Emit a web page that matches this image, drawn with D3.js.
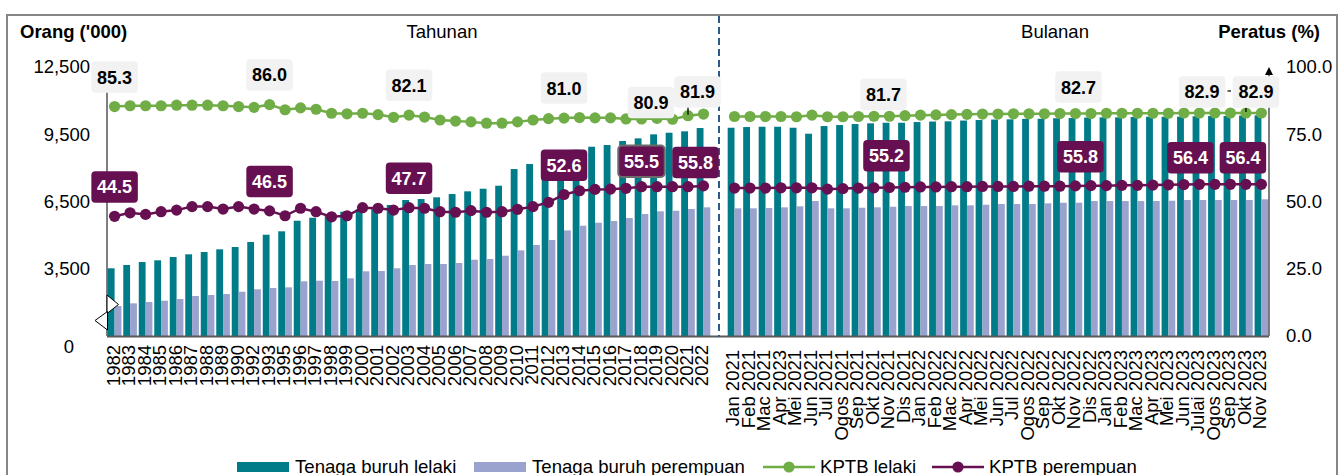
<!DOCTYPE html>
<html>
<head>
<meta charset="utf-8">
<script src="https://cdn.jsdelivr.net/npm/d3@7"></script>
<style>
  body { margin: 0; background: #fff; }
  svg text { font-family: "Liberation Sans", Arial, sans-serif; }
</style>
</head>
<body>
<svg id="chart" width="1340" height="475"></svg>
<script>
// category labels
var YEARS = ["1982","1983","1984","1985","1986","1987","1988","1989","1990","1992","1993","1995",
  "1996","1997","1998","1999","2000","2001","2002","2003","2004","2005","2006","2007","2008","2009",
  "2010","2011","2012","2013","2014","2015","2016","2017","2018","2019","2020","2021","2022"];
var MONTHS = ["Jan 2021","Feb 2021","Mac 2021","Apr 2023","Mei 2021","Jun 2021","Jul 2021","Ogos 2021",
  "Sep 2021","Okt 2021","Nov 2021","Dis 2021","Jan 2022","Feb 2022","Mac 2022","Apr 2022","Mei 2022",
  "Jun 2022","Jul 2022","Ogos 2022","Sep 2022","Okt 2022","Nov 2022","Dis 2022","Jan 2023","Feb 2023",
  "Mac 2023","Apr 2023","Mei 2023","Jun 2023","Julai 2023","Ogos 2023","Sep 2023","Okt 2023","Nov 2023"];

// Tenaga buruh ('000)
var MALE_YEARLY = [3520,3667,3800,3876,4023,4144,4246,4367,4469,4692,5018,5170,5642,5776,5897,6044,
  6151,6240,6343,6566,6610,6686,6833,6954,7070,7204,7948,8171,8350,8640,8810,8943,9019,9197,9317,
  9496,9567,9630,9777];
var FEMALE_YEARLY = [1838,1958,2016,2075,2150,2284,2329,2373,2476,2583,2641,2671,2940,2966,2953,3073,
  3386,3399,3520,3667,3711,3711,3756,3903,3934,4081,4322,4559,4782,5210,5420,5553,5629,5763,5941,
  6061,6088,6164,6240];
var MALE_MONTHLY = [9790,9821,9835,9835,9790,9523,9866,9911,9955,9986,10013,10013,10044,10067,10076,
  10111,10134,10156,10165,10187,10192,10214,10223,10245,10254,10254,10272,10281,10281,10285,10303,
  10312,10312,10334,10343];
var FEMALE_MONTHLY = [6195,6195,6209,6240,6285,6521,6195,6195,6222,6240,6267,6298,6298,6298,6329,6329,
  6356,6387,6387,6387,6418,6445,6445,6521,6521,6521,6521,6521,6535,6566,6566,6566,6566,6566,6597];

// KPTB (%)
var KPTB_MALE_YEARLY = [85.3,85.6,85.6,85.6,85.8,85.8,85.8,85.6,85.3,85.0,86.0,84.1,84.8,84.3,82.8,
  82.6,82.8,82.3,81.3,82.1,81.4,80.3,79.9,79.6,79.1,79.1,79.6,80.3,80.8,81.0,81.2,81.1,81.1,80.7,
  80.7,80.9,80.6,81.9,82.5];
var KPTB_FEMALE_YEARLY = [44.5,45.8,45.2,46.2,46.8,48.1,48.1,47.2,48.1,47.2,46.5,44.7,47.5,46.2,44.3,
  44.7,47.7,47.5,46.8,47.7,47.5,46.2,46.0,46.6,46.0,46.2,47.1,48.1,49.7,52.6,54.0,54.5,54.6,54.9,
  55.5,55.5,55.5,55.5,55.8];
var KPTB_MALE_MONTHLY = [81.6,81.6,81.6,81.6,81.5,82.1,81.5,81.5,81.6,81.7,81.7,81.9,82.1,82.2,82.3,
  82.4,82.5,82.5,82.6,82.6,82.6,82.7,82.7,82.7,82.8,82.8,82.8,82.8,82.8,82.9,82.9,82.9,82.9,82.9,82.9];
var KPTB_FEMALE_MONTHLY = [55.0,55.0,55.0,55.1,55.1,55.1,54.6,54.8,55.0,55.1,55.2,55.3,55.4,55.4,55.5,
  55.5,55.6,55.6,55.6,55.7,55.7,55.7,55.8,55.9,55.9,56.0,56.0,56.1,56.2,56.3,56.4,56.4,56.4,56.4,56.4];

var LEFT_TICKS = [500, 3500, 6500, 9500, 12500];
var RIGHT_TICKS = [0, 25, 50, 75, 100];

// labelled points: [category index, dx, dy, leader line]
var MALE_LABELS = [[0,0,-29.5],[10,0,-29.7],[19,0,-30],[29,0,-30],[35,-6,-16],[37,9.5,-24,true],
  [50,-6,-22],[62,3,-26.5],[70,2.7,-21],[73,10,-21,true]];
var FEMALE_LABELS = [[0,0,-29.3],[10,0,-29.4],[19,0,-29.4],[29,0,-29.2],[34,0,-25.4],[38,-8,-23.4],
  [50,-3,-31.7],[62,5,-29.2],[70,-9,-26.5],[73,-3,-26.5]];

var TEAL = "#007b88", LILAC = "#99a3cd", GREEN = "#70ad47", PURPLE = "#661052";
var PLOT_LEFT = 107, PLOT_RIGHT = 1269, PLOT_TOP = 67, PLOT_BOTTOM = 336;
var FONT = 18.5;

var categories = YEARS.concat([""], MONTHS);
function withGap(a, b) { return a.concat([null], b); }
var male = withGap(MALE_YEARLY, MALE_MONTHLY);
var female = withGap(FEMALE_YEARLY, FEMALE_MONTHLY);
var kptbMale = withGap(KPTB_MALE_YEARLY, KPTB_MALE_MONTHLY);
var kptbFemale = withGap(KPTB_FEMALE_YEARLY, KPTB_FEMALE_MONTHLY);
var idx = d3.range(categories.length);

var svg = d3.select("#chart");

var x = d3.scaleBand().domain(idx).range([PLOT_LEFT, PLOT_RIGHT]).paddingInner(0.12).paddingOuter(0.05);
var bw = x.bandwidth();
var yL = d3.scaleLinear().domain([500, 12500]).range([PLOT_BOTTOM, PLOT_TOP]);
var yR = d3.scaleLinear().domain([0, 100]).range([PLOT_BOTTOM, PLOT_TOP]);
function cx(i) { return x(i) + bw / 2; }

// frame
svg.append("rect").attr("x", 7).attr("y", 15).attr("width", 1330).attr("height", 520)
  .attr("fill", "none").attr("stroke", "#868686").attr("stroke-width", 2);

// bars
svg.append("g").selectAll("rect")
  .data(idx.filter(function(i) { return male[i] != null; }))
  .enter().append("rect")
  .attr("x", function(i) { return x(i); })
  .attr("y", function(i) { return yL(male[i]); })
  .attr("width", bw / 2)
  .attr("height", function(i) { return PLOT_BOTTOM - yL(male[i]); })
  .attr("fill", TEAL);

svg.append("g").selectAll("rect")
  .data(idx.filter(function(i) { return female[i] != null; }))
  .enter().append("rect")
  .attr("x", function(i) { return x(i) + bw / 2; })
  .attr("y", function(i) { return yL(female[i]); })
  .attr("width", bw / 2)
  .attr("height", function(i) { return PLOT_BOTTOM - yL(female[i]); })
  .attr("fill", LILAC);

// axis lines
svg.append("line").attr("x1", PLOT_LEFT).attr("x2", PLOT_LEFT).attr("y1", PLOT_TOP).attr("y2", PLOT_BOTTOM)
  .attr("stroke", "#000").attr("stroke-width", 1);
svg.append("line").attr("x1", PLOT_RIGHT).attr("x2", PLOT_RIGHT).attr("y1", 74).attr("y2", PLOT_BOTTOM)
  .attr("stroke", "#000").attr("stroke-width", 1);
svg.append("path").attr("d", "M" + (PLOT_RIGHT - 4) + ",75L" + PLOT_RIGHT + ",67L" + (PLOT_RIGHT + 4) + ",75Z")
  .attr("fill", "#000");
svg.append("line").attr("x1", PLOT_LEFT).attr("x2", PLOT_RIGHT).attr("y1", PLOT_BOTTOM + 0.5).attr("y2", PLOT_BOTTOM + 0.5)
  .attr("stroke", "#595959").attr("stroke-width", 1.8);

// axis break marks
svg.append("path").attr("d", "M107,295L118.5,304.5L107,313.5Z").attr("fill", "#fff").attr("stroke", "#000").attr("stroke-width", 1);
svg.append("path").attr("d", "M107.5,311.5L95,320.5L107.5,330Z").attr("fill", "#fff").attr("stroke", "#000").attr("stroke-width", 1);

// divider between yearly and monthly
svg.append("line").attr("x1", cx(YEARS.length)).attr("x2", cx(YEARS.length)).attr("y1", 16).attr("y2", PLOT_BOTTOM + 1)
  .attr("stroke", "#2e5a8a").attr("stroke-width", 2).attr("stroke-dasharray", "7,4");

// left axis
var fmt = d3.format(",");
var leftAxis = svg.append("g").attr("transform", "translate(90,0)")
  .call(d3.axisLeft(yL).tickValues(LEFT_TICKS).tickSize(0).tickPadding(0)
    .tickFormat(function(d) { return d === 500 ? "0" : fmt(d); }));
leftAxis.select(".domain").remove();
leftAxis.selectAll("text").attr("font-size", FONT).attr("fill", "#000");
leftAxis.selectAll(".tick").filter(function(d) { return d === 500; })
  .select("text").attr("x", -16).attr("y", 11);

// right axis
var rightAxis = svg.append("g").attr("transform", "translate(1286,0)")
  .call(d3.axisRight(yR).tickValues(RIGHT_TICKS).tickSize(0).tickPadding(0).tickFormat(d3.format(".1f")));
rightAxis.select(".domain").remove();
rightAxis.selectAll("text").attr("font-size", FONT).attr("fill", "#000");

// category labels
svg.append("g").selectAll("text")
  .data(idx.filter(function(i) { return categories[i] !== ""; }))
  .enter().append("text")
  .attr("transform", function(i) {
    return "translate(" + cx(i) + "," + (i < YEARS.length ? 345 : 350) + ") rotate(-90)";
  })
  .attr("dy", "0.27em")
  .attr("text-anchor", "end")
  .attr("font-size", FONT)
  .attr("fill", "#000")
  .text(function(i) { return categories[i]; });

// lines
function drawLine(values, color) {
  var line = d3.line()
    .defined(function(i) { return values[i] != null; })
    .x(cx)
    .y(function(i) { return yR(values[i]); });
  svg.append("path").datum(idx).attr("d", line)
    .attr("fill", "none").attr("stroke", color).attr("stroke-width", 2.5);
  svg.append("g").selectAll("circle")
    .data(idx.filter(function(i) { return values[i] != null; }))
    .enter().append("circle")
    .attr("cx", cx)
    .attr("cy", function(i) { return yR(values[i]); })
    .attr("r", 5.6)
    .attr("fill", color);
}
drawLine(kptbMale, GREEN);
drawLine(kptbFemale, PURPLE);

// data labels
var BOX_W = 46.5, BOX_H = 31.5;
function drawLabels(values, labels, fill, textColor, outline) {
  labels.forEach(function(l) {
    var i = l[0];
    var px = cx(i), py = yR(values[i]);
    var bx = px + l[1], by = py + l[2];
    if (l[3]) {
      svg.append("line").attr("x1", px).attr("x2", px).attr("y1", by + BOX_H / 2).attr("y2", py - 1)
        .attr("stroke", "#000").attr("stroke-width", 1.3);
    }
    var box = svg.append("rect")
      .attr("x", bx - BOX_W / 2).attr("y", by - BOX_H / 2)
      .attr("width", BOX_W).attr("height", BOX_H)
      .attr("rx", 4).attr("fill", fill);
    if (outline && i === 34) box.attr("stroke", "#6b6b6b").attr("stroke-width", 2);
    svg.append("text")
      .attr("x", bx).attr("y", by).attr("dy", "0.36em")
      .attr("text-anchor", "middle")
      .attr("font-size", 18).attr("font-weight", "bold")
      .attr("fill", textColor)
      .text(d3.format(".1f")(values[i]));
  });
}
drawLabels(kptbMale, MALE_LABELS, "#f2f2f2", "#000", false);
drawLabels(kptbFemale, FEMALE_LABELS, PURPLE, "#fff", true);
// small leader between the two last green labels
svg.append("line").attr("x1", 1227.5).attr("x2", 1231).attr("y1", 91).attr("y2", 91)
  .attr("stroke", "#000").attr("stroke-width", 1.2);

// titles
svg.append("text").attr("x", 20).attr("y", 37.5).attr("font-size", FONT).attr("font-weight", "bold").text("Orang ('000)");
svg.append("text").attr("x", 442).attr("y", 37.5).attr("font-size", FONT).attr("text-anchor", "middle").text("Tahunan");
svg.append("text").attr("x", 1055).attr("y", 37.5).attr("font-size", FONT).attr("text-anchor", "middle").text("Bulanan");
svg.append("text").attr("x", 1320).attr("y", 37.5).attr("font-size", FONT).attr("font-weight", "bold")
  .attr("text-anchor", "end").text("Peratus (%)");

// legend
var legend = svg.append("g");
var LEGEND_Y = 467;
legend.append("rect").attr("x", 237).attr("y", LEGEND_Y - 5).attr("width", 52).attr("height", 10).attr("fill", TEAL);
legend.append("text").attr("x", 295).attr("y", LEGEND_Y + 6).attr("font-size", 18.6).text("Tenaga buruh lelaki");
legend.append("rect").attr("x", 474).attr("y", LEGEND_Y - 5).attr("width", 52).attr("height", 10).attr("fill", LILAC);
legend.append("text").attr("x", 532).attr("y", LEGEND_Y + 6).attr("font-size", 18.6).text("Tenaga buruh perempuan");
[[763, GREEN, "KPTB lelaki"], [932, PURPLE, "KPTB perempuan"]].forEach(function(d) {
  legend.append("line").attr("x1", d[0]).attr("x2", d[0] + 52).attr("y1", LEGEND_Y).attr("y2", LEGEND_Y)
    .attr("stroke", d[1]).attr("stroke-width", 2.5);
  legend.append("circle").attr("cx", d[0] + 26).attr("cy", LEGEND_Y).attr("r", 5.6).attr("fill", d[1]);
  legend.append("text").attr("x", d[0] + 57).attr("y", LEGEND_Y + 6).attr("font-size", 18.6).text(d[2]);
});
</script>
</body>
</html>
